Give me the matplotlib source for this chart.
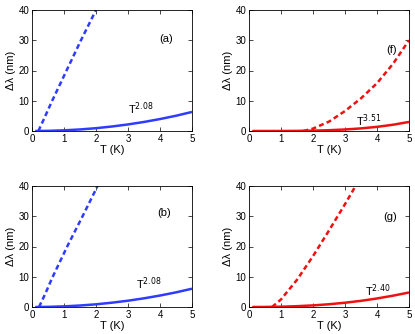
import matplotlib
matplotlib.use("Agg")
import matplotlib.pyplot as plt

plt.rcParams['font.family'] = ['Liberation Sans', 'DejaVu Sans']

BLUE = '#2f3cff'
RED = '#ee1111'

# Panel (a)
a_sol_T = [0.1, 0.5, 1.0, 1.5, 2.0, 2.5, 3.0, 3.5, 4.0, 4.5, 5.0]
a_sol_y = [0.0, 0.05, 0.22, 0.51, 0.93, 1.49, 2.17, 2.99, 3.95, 5.04, 6.3]
a_dash_T = [0.2, 0.4, 0.63, 1.08, 1.53, 2.0]
a_dash_y = [0.0, 4.6, 10.0, 20.0, 30.0, 40.0]

# Panel (b)
b_sol_T = [0.1, 0.5, 1.0, 1.5, 2.0, 2.5, 3.0, 3.5, 4.0, 4.5, 5.0]
b_sol_y = [0.0, 0.05, 0.21, 0.49, 0.89, 1.43, 2.08, 2.87, 3.79, 4.84, 6.05]
b_dash_T = [0.22, 0.42, 0.63, 1.1, 1.58, 2.05]
b_dash_y = [0.0, 4.5, 9.6, 20.0, 30.0, 40.0]

# Panel (f)
f_sol_T = [0.1, 1.0, 1.5, 2.0, 2.5, 3.0, 3.5, 4.0, 4.5, 5.0]
f_sol_y = [0.0, 0.01, 0.04, 0.12, 0.26, 0.5, 0.86, 1.37, 2.07, 3.0]
f_dash_T = [1.7, 2.0, 2.5, 3.0, 3.5, 4.0, 4.5, 5.0]
f_dash_y = [0.0, 0.8, 3.1, 6.6, 10.8, 15.8, 22.2, 30.0]

# Panel (g)
g_sol_T = [0.1, 0.5, 1.0, 1.5, 2.0, 2.5, 3.0, 3.5, 4.0, 4.5, 5.0]
g_sol_y = [0.0, 0.02, 0.10, 0.27, 0.53, 0.91, 1.41, 2.04, 2.82, 3.74, 4.8]
g_dash_T = [0.72, 1.0, 1.5, 2.0, 2.5, 3.0, 3.33]
g_dash_y = [0.0, 2.5, 9.0, 16.8, 25.3, 34.0, 40.0]

xticks = [0, 1, 2, 3, 4, 5]
yticks = [0, 10, 20, 30, 40]

panels = [
    (32, 131, BLUE, a_sol_T, a_sol_y, a_dash_T, a_dash_y, '(a)', (4.2, 30.3), r'T$^{2.08}$', (3.4, 7.5)),
    (249, 131, RED, f_sol_T, f_sol_y, f_dash_T, f_dash_y, '(f)', (4.46, 26.8), r'T$^{3.51}$', (3.73, 3.4)),
    (32, 307, BLUE, b_sol_T, b_sol_y, b_dash_T, b_dash_y, '(b)', (4.13, 31.0), r'T$^{2.08}$', (3.65, 7.6)),
    (249, 307, RED, g_sol_T, g_sol_y, g_dash_T, g_dash_y, '(g)', (4.4, 29.6), r'T$^{2.40}$', (4.04, 5.4)),
]

W, H = 415, 334
fig = plt.figure(figsize=(W / 100, H / 100), dpi=100)

for (lx, by, col, sT, sy, dT, dy, lab, lpos, elab, epos) in panels:
    ax = fig.add_axes([lx / W, (H - by) / H, 160 / W, 121 / H])
    ax.plot(sT, sy, color=col, lw=1.8, solid_capstyle='butt')
    ax.plot(dT, dy, color=col, lw=1.8, dashes=[2.0, 1.3], dash_capstyle='butt')
    ax.set_xlim(0, 5)
    ax.set_ylim(0, 40)
    ax.set_xticks(xticks)
    ax.set_yticks(yticks)
    ax.tick_params(direction='in', top=True, right=True, length=3, width=0.5,
                   labelsize=7, pad=2)
    for sp in ax.spines.values():
        sp.set_linewidth(0.6)
    ax.set_xlabel('T (K)', fontsize=8, labelpad=1)
    ax.set_ylabel('Δλ (nm)', fontsize=8, labelpad=2)
    ax.text(lpos[0], lpos[1], lab, fontsize=8, ha='center', va='center')
    ax.text(epos[0], epos[1], elab, fontsize=8, ha='center', va='center')

fig.savefig('out.png', dpi=100)
